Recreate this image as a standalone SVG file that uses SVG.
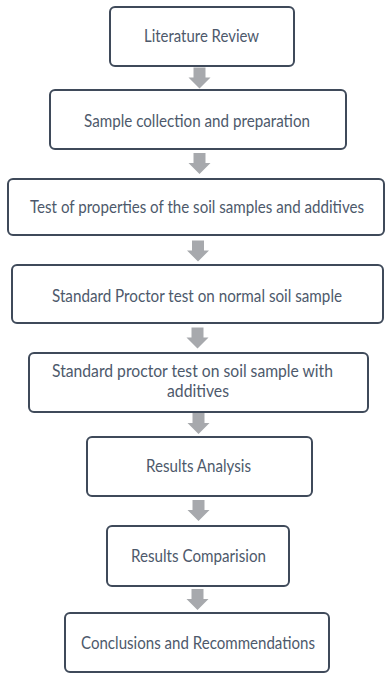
<svg xmlns="http://www.w3.org/2000/svg" xmlns:xlink="http://www.w3.org/1999/xlink" width="385" height="673" viewBox="0 0 385 673">
  <style>
    .box { fill: #ffffff; stroke: #3f4a5a; stroke-width: 2; }
    .lbl { font-family: Lato, "Open Sans", "Liberation Sans", sans-serif; font-size: 18px; fill: #4d596b; }
    .arr { fill: #a7a9ad; }
  </style>
  <defs>
    <path id="downArrow" class="arr" d="M -6 0 H 6 V 10 H 11 L 0 21 L -11 10 H -6 Z"/>
  </defs>
  <rect width="385" height="673" fill="#ffffff"/>
  <g id="connectors">
    <use xlink:href="#downArrow" href="#downArrow" transform="translate(199.5,67.5)"/>
    <use xlink:href="#downArrow" href="#downArrow" transform="translate(199.5,153)"/>
    <use xlink:href="#downArrow" href="#downArrow" transform="translate(198,240.5)"/>
    <use xlink:href="#downArrow" href="#downArrow" transform="translate(197.5,327.5)"/>
    <use xlink:href="#downArrow" href="#downArrow" transform="translate(198.5,413)"/>
    <use xlink:href="#downArrow" href="#downArrow" transform="translate(198.5,500)"/>
    <use xlink:href="#downArrow" href="#downArrow" transform="translate(197.5,589)"/>
  </g>
  <g id="n1">
    <rect class="box" x="110" y="7" width="184" height="59" rx="5"/>
    <text class="lbl" x="144" y="42" textLength="115" lengthAdjust="spacingAndGlyphs">Literature Review</text>
  </g>
  <g id="n2">
    <rect class="box" x="50" y="90" width="296" height="59" rx="5"/>
    <text class="lbl" x="84" y="127" textLength="226" lengthAdjust="spacingAndGlyphs">Sample collection and preparation</text>
  </g>
  <g id="n3">
    <rect class="box" x="8" y="179" width="376" height="56" rx="5"/>
    <text class="lbl" x="30" y="213" textLength="334" lengthAdjust="spacingAndGlyphs">Test of properties of the soil samples and additives</text>
  </g>
  <g id="n4">
    <rect class="box" x="12" y="265" width="371" height="58" rx="5"/>
    <text class="lbl" x="52" y="302" textLength="290" lengthAdjust="spacingAndGlyphs">Standard Proctor test on normal soil sample</text>
  </g>
  <g id="n5">
    <rect class="box" x="29" y="353" width="339" height="59" rx="5"/>
    <text class="lbl" x="52" y="377" textLength="281" lengthAdjust="spacingAndGlyphs">Standard proctor test on soil sample with</text>
    <text class="lbl" x="167" y="397" textLength="62" lengthAdjust="spacingAndGlyphs">additives</text>
  </g>
  <g id="n6">
    <rect class="box" x="87" y="437" width="225" height="59" rx="5"/>
    <text class="lbl" x="146" y="472" textLength="105" lengthAdjust="spacingAndGlyphs">Results Analysis</text>
  </g>
  <g id="n7">
    <rect class="box" x="107" y="526" width="182" height="60" rx="5"/>
    <text class="lbl" x="131" y="562" textLength="135" lengthAdjust="spacingAndGlyphs">Results Comparision</text>
  </g>
  <g id="n8">
    <rect class="box" x="65" y="613" width="264" height="59" rx="5"/>
    <text class="lbl" x="81" y="649" textLength="234" lengthAdjust="spacingAndGlyphs">Conclusions and Recommendations</text>
  </g>
</svg>
